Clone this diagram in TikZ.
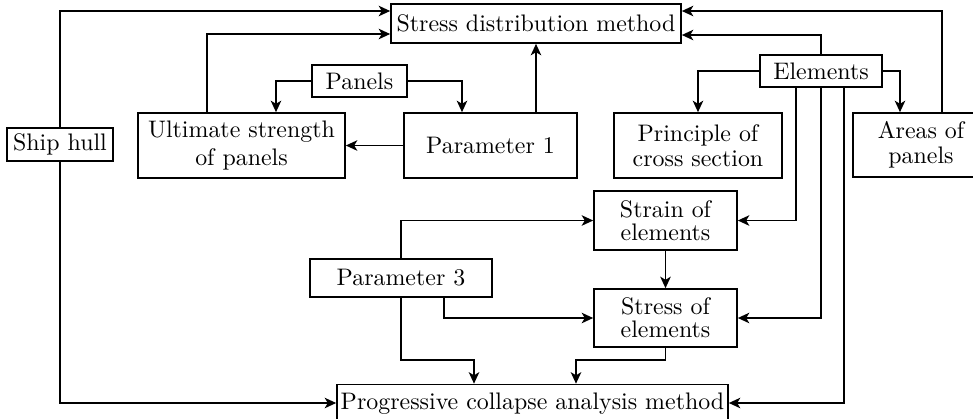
\documentclass[tikz,border=0pt]{standalone}
\usetikzlibrary{arrows.meta,calc}
\def\pu{0.4184pt}
\tikzset{
  box/.style={draw, line width=0.7pt, inner sep=0pt, align=center,
    minimum width={#1}},
  tight/.style={font=\fontsize{10pt}{#1}\selectfont},
  arr/.style={line width=0.7pt, -{Stealth[length=4.8pt,width=4.4pt,inset=1.3pt]}},
  ln/.style={line width=0.7pt}
}
\begin{document}
\begin{tikzpicture}[x=0.4184pt,y=-0.4184pt]
\useasboundingbox (0,0) rectangle (973,418);
\clip (0,0) rectangle (973,418);
\node[box=290*\pu, minimum height=39*\pu] (SDM) at (536,23.5) {Stress distribution method};
\node[box=95*\pu, minimum height=32*\pu] (PA) at (359.5,81) {Panels};
\node[box=207*\pu, minimum height=65*\pu, tight=11.8pt] (US) at (241.5,145.5) {Ultimate strength\\of panels};
\node[box=173*\pu, minimum height=65*\pu] (P1) at (490.5,145.5) {Parameter 1};
\node[box=106*\pu, minimum height=33*\pu] (SH) at (60,144.5) {Ship hull};
\node[box=122*\pu, minimum height=32*\pu] (EL) at (821,71) {Elements};
\node[box=168*\pu, minimum height=65*\pu, tight=10.5pt] (PCS) at (698,145.5) {Principle of\\cross section};
\node[box=136*\pu, minimum height=64*\pu, tight=10.5pt] (AP) at (921,145) {Areas of\\panels};
\node[box=143*\pu, minimum height=59*\pu, tight=9.4pt] (STR) at (665.5,220.5) {Strain of\\elements};
\node[box=143*\pu, minimum height=58*\pu, tight=9.6pt] (STE) at (665.5,318) {Stress of\\elements};
\node[box=182*\pu, minimum height=38*\pu] (P3) at (401,278) {Parameter 3};
\node[box=391*\pu, minimum height=39*\pu] (PC) at (532.5,404) {Progressive collapse analysis method};

\draw[arr] (SH.north) |- ($(SDM.west)+(0,-12.5)$);
\draw[arr] (SH.south) |- ($(PC.west)+(0,-1)$);
\draw[arr] ($(US.north)+(-34.5,0)$) |- ($(SDM.west)+(0,10.5)$);
\draw[arr] (PA.west) -| ($(US.north)+(34.5,0)$);
\draw[arr] (PA.east) -| ($(P1.north)+(-28.5,0)$);
\draw[arr] (P1.west) -- (US.east);
\draw[arr] (SDM.south |- P1.north) -- (SDM.south);
\draw[arr] (EL.north) |- ($(SDM.east)+(0,11.5)$);
\draw[arr] ($(AP.north)+(21,0)$) |- ($(SDM.east)+(0,-12.5)$);
\draw[arr] (EL.west) -| (PCS.north);
\draw[arr] (EL.east) -| ($(AP.north)+(-21,0)$);
\draw[arr] ($(EL.south)+(-25,0)$) |- (STR.east);
\draw[arr] (EL.south) |- (STE.east);
\draw[arr] ($(EL.south)+(23,0)$) |- ($(PC.east)+(0,-1)$);
\draw[arr] (P3.north) |- (STR.west);
\draw[arr] ($(P3.south)+(43,0)$) |- (STE.west);
\draw[arr] (P3.south) -- ++(0,62) -| ($(PC.north)+(-58.5,0)$);
\draw[arr] (STE.south) -- ++(0,12) -| ($(PC.north)+(43.5,0)$);
\draw[arr] (STR.south) -- (STE.north);
\end{tikzpicture}
\end{document}
